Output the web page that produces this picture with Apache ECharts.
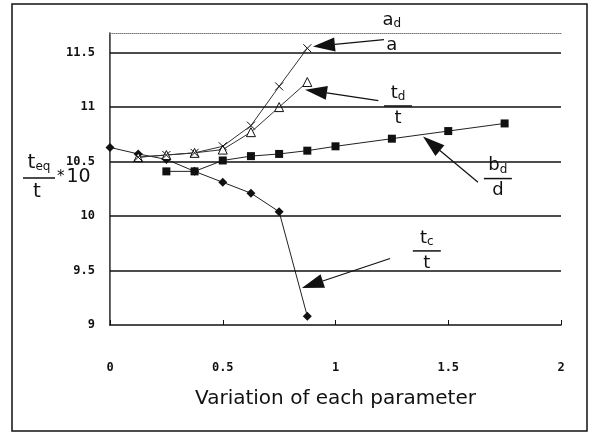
<!DOCTYPE html>
<html>
<head>
<meta charset="utf-8">
<script src="https://cdn.jsdelivr.net/npm/echarts@6/dist/echarts.min.js"></script>
<style>
  html, body { margin: 0; padding: 0; background: #fff; }
  #main { width: 592px; height: 434px; }
</style>
</head>
<body>
<div id="main"></div>
<script>
// data
var xTicks = [0, 0.5, 1, 1.5, 2];
var yGrid = [9.5, 10, 10.5, 11, 11.5];

var tcX = [0, 0.125, 0.25, 0.375, 0.5, 0.625, 0.75, 0.875];
var tcY = [10.63, 10.57, 10.52, 10.41, 10.31, 10.21, 10.04, 9.08];

var bdX = [0.25, 0.375, 0.5, 0.625, 0.75, 0.875, 1.0, 1.25, 1.5, 1.75];
var bdY = [10.41, 10.41, 10.51, 10.55, 10.57, 10.60, 10.64, 10.71, 10.78, 10.85];

var tdX = [0.125, 0.25, 0.375, 0.5, 0.625, 0.75, 0.875];
var tdY = [10.54, 10.56, 10.58, 10.61, 10.77, 11.0, 11.23];

var adX = [0.125, 0.25, 0.375, 0.5, 0.625, 0.75, 0.875];
var adY = [10.54, 10.56, 10.58, 10.64, 10.83, 11.19, 11.54];

// arrow annotations (data coords): tip, tail, fraction bar position
var notes = [
  { num: 'a', sub: 'd', den: 'a', tip: [0.9, 11.555], tail: [1.215, 11.62], bar: [1.25, 11.68], showBar: false },
  { num: 't', sub: 'd', den: 't', tip: [0.865, 11.16], tail: [1.19, 11.06], bar: [1.277, 11.01], showBar: true },
  { num: 'b', sub: 'd', den: 'd', tip: [1.388, 10.73], tail: [1.632, 10.31], bar: [1.72, 10.344], showBar: true },
  { num: 't', sub: 'c', den: 't', tip: [0.851, 9.34], tail: [1.242, 9.61], bar: [1.405, 9.68], showBar: true }
];

function pairs(xs, ys) {
  var out = [];
  for (var i = 0; i < xs.length; i++) out.push([xs[i], ys[i]]);
  return out;
}

var ink = '#111';
var lbl = { color: ink, fontFamily: 'DejaVu Sans Mono', fontWeight: 'bold', fontSize: 12 };

var chart = echarts.init(document.getElementById('main'));

var option = {
  animation: false,
  backgroundColor: '#fff',
  grid: { left: 110, right: 31, top: 33, bottom: 109 },
  xAxis: [{
    type: 'value', min: 0, max: 2, interval: 0.5,
    axisLine: { lineStyle: { color: ink, width: 1.5 } },
    axisTick: { inside: true, length: 5, lineStyle: { color: ink } },
    axisLabel: Object.assign({ margin: 37 }, lbl),
    splitLine: { show: false },
    name: 'Variation of each parameter',
    nameLocation: 'middle', nameGap: 64,
    nameTextStyle: { fontFamily: 'DejaVu Sans', fontSize: 20, color: ink }
  }, {
    type: 'value', min: 0, max: 2, position: 'top',
    axisLine: { lineStyle: { color: '#777', type: 'dotted' } },
    axisTick: { show: false }, axisLabel: { show: false }, splitLine: { show: false }
  }],
  yAxis: [{
    type: 'value', min: 9, max: 11.68, interval: 0.5,
    axisLine: { show: true, lineStyle: { color: ink, width: 1.5 } },
    axisTick: { show: false },
    axisLabel: Object.assign({
      margin: 15, showMaxLabel: false,
      formatter: function (v) { return (Math.round(v * 2) === v * 2) ? String(v) : ''; }
    }, lbl),
    splitLine: { show: false }
  }, {
    type: 'value', min: 9, max: 11.68, position: 'right',
    axisLine: { show: true, lineStyle: { color: '#777', type: 'dotted' } },
    axisTick: { show: false }, axisLabel: { show: false }, splitLine: { show: false }
  }],
  series: [{
    name: 'grid', type: 'line', data: [], silent: true,
    markLine: {
      silent: true, symbol: 'none', label: { show: false },
      lineStyle: { color: ink, width: 1.5, type: 'solid' },
      data: yGrid.map(function (v) { return { yAxis: v }; })
    }
  }, {
    name: 'tc', type: 'line', data: pairs(tcX, tcY),
    symbol: 'diamond', symbolSize: 9,
    lineStyle: { color: '#222', width: 1 }, itemStyle: { color: ink }
  }, {
    name: 'bd', type: 'line', data: pairs(bdX, bdY),
    symbol: 'rect', symbolSize: 8,
    lineStyle: { color: '#222', width: 1 }, itemStyle: { color: ink }
  }, {
    name: 'td', type: 'line', data: pairs(tdX, tdY),
    symbol: 'triangle', symbolSize: 9,
    lineStyle: { color: '#333', width: 1 },
    itemStyle: { color: '#fff', borderColor: ink, borderWidth: 1 }
  }, {
    name: 'ad', type: 'line', data: pairs(adX, adY),
    symbol: 'path://M0,0L10,10M10,0L0,10', symbolSize: 8,
    lineStyle: { color: '#333', width: 1 },
    itemStyle: { color: 'rgba(0,0,0,0)', borderColor: ink, borderWidth: 1 }
  }]
};

chart.setOption(option);

// annotations drawn after layout so they follow the axes
var g = [];
g.push({ type: 'rect', shape: { x: 12, y: 4, width: 575, height: 427 },
  style: { fill: 'none', stroke: ink, lineWidth: 1.5 }, silent: true });

notes.forEach(function (n) {
  var p = chart.convertToPixel({ gridIndex: 0 }, n.tip);
  var t = chart.convertToPixel({ gridIndex: 0 }, n.tail);
  var dx = p[0] - t[0], dy = p[1] - t[1];
  var len = Math.sqrt(dx * dx + dy * dy);
  var ux = dx / len, uy = dy / len;
  var bx = p[0] - ux * 22, by = p[1] - uy * 22;
  var nx = -uy * 7, ny = ux * 7;
  g.push({ type: 'line', shape: { x1: t[0], y1: t[1], x2: bx, y2: by },
    style: { stroke: ink, lineWidth: 1.2 }, silent: true });
  g.push({ type: 'polygon', shape: { points: [[p[0], p[1]], [bx + nx, by + ny], [bx - nx, by - ny]] },
    style: { fill: ink }, silent: true });

  var b = chart.convertToPixel({ gridIndex: 0 }, n.bar);
  g.push({ type: 'text', x: b[0], y: b[1] - 13, silent: true,
    style: { text: '{m|' + n.num + '}{s|' + n.sub + '}', align: 'center', verticalAlign: 'middle',
      rich: { m: { fontFamily: 'DejaVu Sans', fontSize: 18, fill: ink },
              s: { fontFamily: 'DejaVu Sans', fontSize: 12, fill: ink, padding: [8, 0, 0, 0] } } } });
  if (n.showBar) {
    g.push({ type: 'line', shape: { x1: b[0] - 14, y1: b[1], x2: b[0] + 14, y2: b[1] },
      style: { stroke: ink, lineWidth: 1.5 }, silent: true });
  }
  g.push({ type: 'text', x: b[0], y: b[1] + 12, silent: true,
    style: { text: n.den, align: 'center', verticalAlign: 'middle',
      fontFamily: 'DejaVu Sans', fontSize: 18, fill: ink } });
});

// y axis title: t_eq / t * 10
g.push({ type: 'text', x: 39, y: 163, silent: true,
  style: { text: '{m|t}{s|eq}', align: 'center', verticalAlign: 'middle',
    rich: { m: { fontFamily: 'DejaVu Sans', fontSize: 20, fill: ink },
            s: { fontFamily: 'DejaVu Sans', fontSize: 12, fill: ink, padding: [8, 0, 0, 0] } } } });
g.push({ type: 'line', shape: { x1: 23, y1: 178, x2: 55, y2: 178 },
  style: { stroke: ink, lineWidth: 1.5 }, silent: true });
g.push({ type: 'text', x: 37, y: 192, silent: true,
  style: { text: 't', align: 'center', verticalAlign: 'middle',
    fontFamily: 'DejaVu Sans', fontSize: 20, fill: ink } });
g.push({ type: 'text', x: 57, y: 177, silent: true,
  style: { text: '{a|*}{n|10}', align: 'left', verticalAlign: 'middle',
    rich: { a: { fontFamily: 'DejaVu Sans', fontSize: 15, fill: ink, padding: [0, 2, 0, 0] },
            n: { fontFamily: 'DejaVu Sans', fontSize: 19, fill: ink } } } });

chart.setOption({ graphic: g });
</script>
</body>
</html>
